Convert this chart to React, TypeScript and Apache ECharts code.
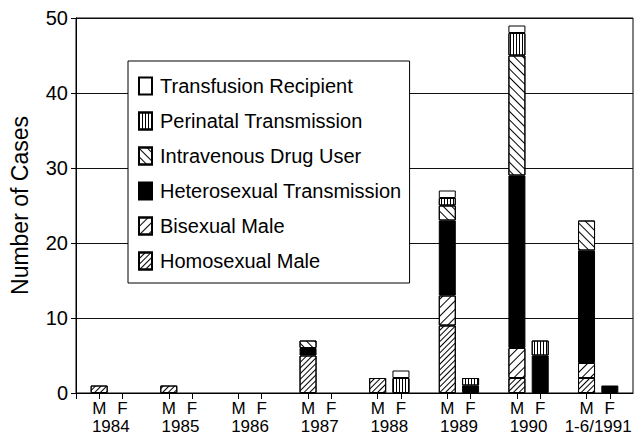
import React, { useEffect, useRef } from 'react';
import * as echarts from 'echarts';

// ---- data ----
const years = ['1984', '1985', '1986', '1987', '1988', '1989', '1990', '1-6/1991'];
const sexes = ['M', 'F'];
const yTicks = [0, 10, 20, 30, 40, 50];

const homosexualM = [1, 1, 0, 5, 2, 9, 2, 2];
const homosexualF = [0, 0, 0, 0, 0, 0, 0, 0];
const bisexualM = [0, 0, 0, 0, 0, 4, 4, 2];
const bisexualF = [0, 0, 0, 0, 0, 0, 0, 0];
const heteroM = [0, 0, 0, 1, 0, 10, 23, 15];
const heteroF = [0, 0, 0, 0, 0, 1, 5, 1];
const iduM = [0, 0, 0, 1, 0, 2, 16, 4];
const iduF = [0, 0, 0, 0, 0, 0, 0, 0];
const perinatalM = [0, 0, 0, 0, 0, 1, 3, 0];
const perinatalF = [0, 0, 0, 0, 2, 1, 2, 0];
const transfusionM = [0, 0, 0, 0, 0, 1, 1, 0];
const transfusionF = [0, 0, 0, 0, 1, 0, 0, 0];

const categoryNames = [
  'Homosexual Male',
  'Bisexual Male',
  'Heterosexual Transmission',
  'Intravenous Drug User',
  'Perinatal Transmission',
  'Transfusion Recipient',
];
const legendOrder = [
  'Transfusion Recipient',
  'Perinatal Transmission',
  'Intravenous Drug User',
  'Heterosexual Transmission',
  'Bisexual Male',
  'Homosexual Male',
];

const FONT = '"Liberation Sans", Arial, Helvetica, sans-serif';

const stripe = (gap: number, rotation: number) => ({
  symbol: 'rect',
  symbolSize: 1,
  dashArrayX: [1, 0],
  dashArrayY: [1, gap],
  rotation,
  color: '#000',
});

const styles: Record<string, any> = {
  'Homosexual Male': { color: '#fff', decal: stripe(2.2, -Math.PI / 4) },
  'Bisexual Male': { color: '#fff', decal: stripe(5, -Math.PI / 4) },
  'Heterosexual Transmission': { color: '#000' },
  'Intravenous Drug User': { color: '#fff', decal: stripe(5, Math.PI / 4) },
  'Perinatal Transmission': {
    color: '#fff',
    decal: { symbol: 'rect', symbolSize: 1, dashArrayX: [1, 1.5], dashArrayY: [1, 0], color: '#000' },
  },
  'Transfusion Recipient': { color: '#fff' },
};

const valuesBySex: Record<string, number[][]> = {
  M: [homosexualM, bisexualM, heteroM, iduM, perinatalM, transfusionM],
  F: [homosexualF, bisexualF, heteroF, iduF, perinatalF, transfusionF],
};

export default function App() {
  const ref = useRef<HTMLDivElement>(null);
  useEffect(() => {
    if (!ref.current) return;
    const chart = echarts.init(ref.current, null, { renderer: 'svg' });

    // tick positions on a helper value axis: group i spans [3i, 3i+3], M at 3i+1, F at 3i+2
    const sexTickValues: number[] = [];
    years.forEach((_, i) => sexes.forEach((_, s) => sexTickValues.push(3 * i + 1 + s)));

    const series: any[] = [];
    sexes.forEach((sex) => {
      valuesBySex[sex].forEach((vals, k) => {
        const name = categoryNames[k];
        series.push({
          name,
          type: 'bar',
          stack: sex,
          xAxisIndex: 0,
          barWidth: 17,
          barGap: '37%',
          data: vals.map((v) => (v === 0 ? null : v)),
          itemStyle: { ...styles[name], borderColor: '#000', borderWidth: 1 },
          emphasis: { disabled: true },
        });
      });
    });

    chart.setOption({
      animation: false,
      backgroundColor: '#fff',
      grid: {
        left: 72,
        right: 3,
        top: 18,
        bottom: 43,
        show: true,
        borderColor: '#000',
        borderWidth: 1,
      },
      legend: {
        orient: 'vertical',
        left: 128,
        top: 61,
        data: legendOrder,
        backgroundColor: '#fff',
        borderColor: '#000',
        borderWidth: 1,
        borderRadius: 0,
        padding: [15, 8, 12, 10],
        itemWidth: 13,
        itemHeight: 17,
        itemGap: 15,
        icon: 'rect',
        selectedMode: false,
        textStyle: { fontFamily: FONT, fontSize: 20, color: '#000', lineHeight: 20, padding: [0, 0, 0, 3] },
        z: 10,
      },
      xAxis: [
        {
          type: 'category',
          data: years,
          boundaryGap: true,
          axisLine: { show: true, lineStyle: { color: '#000', width: 1 } },
          axisTick: { show: false },
          axisLabel: {
            interval: 0,
            fontFamily: FONT,
            fontSize: 17,
            lineHeight: 17,
            color: '#000',
            margin: 25,
          },
          splitLine: { show: false },
        },
        {
          type: 'value',
          position: 'bottom',
          min: 0,
          max: 24,
          axisLine: { show: false },
          axisTick: {
            show: true,
            length: 6,
            customValues: [0, ...sexTickValues],
            lineStyle: { color: '#000', width: 1 },
          },
          axisLabel: {
            customValues: sexTickValues,
            formatter: (v: number) => sexes[(Math.round(v) - 1) % 3] ?? '',
            fontFamily: FONT,
            fontSize: 17,
            lineHeight: 17,
            color: '#000',
            margin: 7,
          },
          splitLine: { show: false },
        },
      ],
      yAxis: {
        type: 'value',
        min: yTicks[0],
        max: yTicks[yTicks.length - 1],
        interval: 10,
        name: 'Number of Cases',
        nameLocation: 'middle',
        nameGap: 45,
        nameTextStyle: { fontFamily: FONT, fontSize: 23, color: '#000' },
        axisLine: { show: true, lineStyle: { color: '#000', width: 1 } },
        axisTick: { show: true, length: 5, lineStyle: { color: '#000', width: 1 } },
        axisLabel: { fontFamily: FONT, fontSize: 20, color: '#000', margin: 8 },
        splitLine: { show: true, lineStyle: { color: '#111', width: 1 } },
      },
      series,
    });
    return () => chart.dispose();
  }, []);
  return (
    <div
      ref={ref}
      style={{ position: 'fixed', left: 0, top: 0, width: 636, height: 436 }}
    />
  );
}
